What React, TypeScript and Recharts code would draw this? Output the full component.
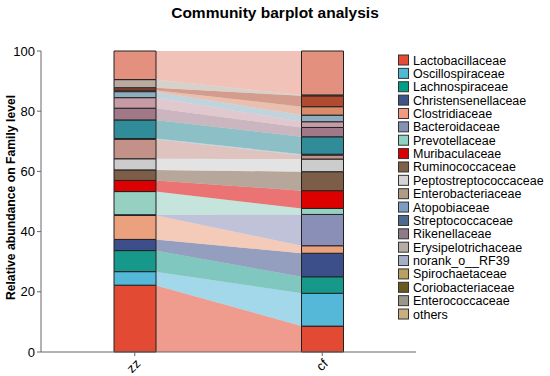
import React from 'react';
import { ComposedChart, Bar, Area, XAxis, YAxis } from 'recharts';

// samples and families, bottom of the stack first
const samples = ['zz', 'cf'];
const families = [
  'Lactobacillaceae', 'Oscillospiraceae', 'Lachnospiraceae', 'Christensenellaceae',
  'Clostridiaceae', 'Bacteroidaceae', 'Prevotellaceae', 'Muribaculaceae',
  'Ruminococcaceae', 'Peptostreptococcaceae', 'Enterobacteriaceae', 'Atopobiaceae',
  'Streptococcaceae', 'Rikenellaceae', 'Erysipelotrichaceae', 'norank_o__RF39',
  'Spirochaetaceae', 'Coriobacteriaceae', 'Enterococcaceae', 'others',
];
// relative abundance (%)
const zzValues = [22.2, 4.5, 7.0, 3.7, 8.0, 0.2, 7.7, 3.7, 3.5, 3.7, 6.5, 0.2, 6.2, 3.9, 3.5, 2.0, 0.5, 0.8, 2.7, 9.5];
const cfValues = [8.6, 10.9, 5.5, 7.8, 2.5, 10.4, 2.0, 5.9, 6.3, 4.2, 1.3, 0.3, 5.8, 3.1, 1.9, 2.2, 2.8, 3.6, 0.3, 14.6];
const yTicks = [0, 20, 40, 60, 80, 100];

// colours as they appear in the bars
const barColors = [
  '#E24A33', '#56B8D8', '#16998A', '#3C4F8A', '#EBA07E', '#8A8FB8', '#95D0C0', '#DD0000',
  '#7C5E48', '#CCCCCC', '#C39188', '#8FB3C4', '#2F8C98', '#A07888', '#C79BA6', '#8EAEC0',
  '#D98B6A', '#B04A30', '#B8AAA0', '#E4907E',
];
// colours of the legend swatches
const legendColors = [
  '#E64B35', '#4DBBD5', '#00A087', '#3C5488', '#F39B7F', '#8491B4', '#91D1C2', '#DC0000',
  '#7E6148', '#D4D4D4', '#B09C85', '#7C9CC4', '#4C6A8E', '#8E7B87', '#B5ADA5', '#A3AEC9',
  '#B8A060', '#6A5A22', '#9A968A', '#C8AE80',
];

const W = 550;
const H = 376;
const MARGIN = { top: 51, right: 134, bottom: 0, left: 0 };
const Y_AXIS_W = 41;
const BAR_SIZE = 42;
const PLOT_W = W - MARGIN.left - MARGIN.right - Y_AXIS_W;
// half a bar, in x-axis units (domain 0..2), so the bands start at the bar edges
const EDGE = (BAR_SIZE / 2) / (PLOT_W / 2) - 0.002;
const FONT = '"Liberation Sans", Arial, sans-serif';

const rows = samples.map((s, i) => {
  const vals = i === 0 ? zzValues : cfValues;
  const row: Record<string, number | string> = {
    name: s,
    x: i + 0.5,
    bx: i === 0 ? 0.5 + EDGE : 1.5 - EDGE,
  };
  families.forEach((f, k) => {
    row[f] = vals[k];
  });
  return row;
});

const YLabel = (props: any) => {
  const { x, y, height } = props.viewBox;
  const cx = x + 10.5;
  const cy = y + height / 2 - 4;
  return (
    <text
      x={cx}
      y={cy}
      transform={`rotate(-90, ${cx}, ${cy})`}
      textAnchor="middle"
      dominantBaseline="central"
      fontSize={12.2}
      fontWeight="bold"
      fill="#000"
      fontFamily={FONT}
    >
      Relative abundance on Family level
    </text>
  );
};

export default function App() {
  return (
    <div style={{ position: 'absolute', left: 0, top: 0, width: W, height: H, background: '#fff', fontFamily: FONT }}>
      <ComposedChart width={W} height={H} data={rows} margin={MARGIN}>
        <XAxis
          xAxisId="main"
          dataKey="x"
          type="number"
          domain={[0, 2]}
          ticks={[0.5, 1.5]}
          interval={0}
          allowDataOverflow
          height={24}
          tickSize={4}
          stroke="#666"
          tickFormatter={(v: number) => samples[Math.round(v - 0.5)]}
          tick={{ angle: -45, textAnchor: 'end', fontSize: 13, fill: '#000', fontFamily: FONT }}
        />
        <XAxis xAxisId="band" dataKey="bx" type="number" domain={[0, 2]} allowDataOverflow height={0} hide />
        <YAxis
          domain={[0, 100]}
          ticks={yTicks}
          interval={0}
          width={Y_AXIS_W}
          tickSize={4}
          stroke="#666"
          tick={{ fontSize: 13, fill: '#000', fontFamily: FONT }}
          label={<YLabel />}
        />
        {families.map((f, k) => (
          <Area
            key={`a-${f}`}
            xAxisId="band"
            dataKey={f}
            stackId="bands"
            type="linear"
            fill={barColors[k]}
            fillOpacity={0.55}
            stroke="none"
            isAnimationActive={false}
          />
        ))}
        {families.map((f, k) => (
          <Bar
            key={`b-${f}`}
            xAxisId="main"
            dataKey={f}
            stackId="bars"
            barSize={BAR_SIZE}
            fill={barColors[k]}
            stroke="#222"
            strokeWidth={1}
            isAnimationActive={false}
          />
        ))}
      </ComposedChart>
      <svg width={W} height={H} style={{ position: 'absolute', left: 0, top: 0, pointerEvents: 'none' }}>
        <text x={275} y={17.5} textAnchor="middle" fontSize={15.5} fontWeight="bold" fill="#000" fontFamily={FONT}>
          Community barplot analysis
        </text>
        {families.map((f, k) => {
          const base = 65 + k * 13.37;
          return (
            <g key={`l-${f}`}>
              <rect x={398.5} y={base - 10} width={10} height={10} fill={legendColors[k]} stroke="#333" strokeWidth={1} />
              <text x={413} y={base - 0.5} fontSize={12.5} fill="#000" fontFamily={FONT}>
                {f}
              </text>
            </g>
          );
        })}
      </svg>
    </div>
  );
}
